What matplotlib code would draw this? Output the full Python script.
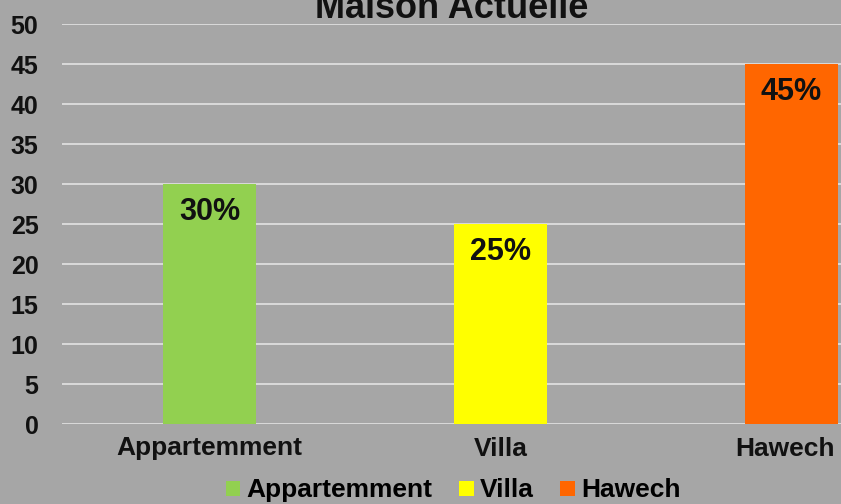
import matplotlib.pyplot as plt
from matplotlib.transforms import ScaledTranslation

categories = ["Appartemment", "Villa", "Hawech"]
values = [30, 25, 45]
colors = ["#92d050", "#ffff00", "#ff6600"]
yticks = [0, 5, 10, 15, 20, 25, 30, 35, 40, 45, 50]

plt.rcParams["font.family"] = ["Liberation Sans", "DejaVu Sans"]
plt.rcParams["font.weight"] = "bold"

bg = "#a6a6a6"
fig = plt.figure(figsize=(8.41, 5.04), dpi=100, facecolor=bg)
ax = fig.add_axes([62 / 841, 80 / 504, 1 - 62 / 841, 400 / 504])
ax.set_facecolor(bg)

x = list(range(len(categories)))
bars = ax.bar(x, values, width=0.32, color=colors, label=categories, zorder=3)

for b, v in zip(bars, values):
    ax.annotate(f"{v}%", (b.get_x() + b.get_width() / 2, v),
                xytext=(0, -26), textcoords="offset points",
                ha="center", va="baseline", fontsize=22, fontweight="bold",
                color="#111111", zorder=4)

ax.set_xlim(-0.507, 2.17)
ax.set_ylim(0, 50)
ax.set_yticks(yticks)
ax.set_xticks(x)
ax.set_xticklabels(categories, fontsize=19)
ax.grid(axis="y", color="#dedede", linewidth=1.3, zorder=0)
ax.tick_params(axis="both", length=0, labelcolor="#111111")
ax.tick_params(axis="y", labelsize=18, pad=17)
ax.tick_params(axis="x", pad=9)
for s in ax.spines.values():
    s.set_visible(False)

# keep the last category label inside the right edge
last = ax.get_xticklabels()[-1]
last.set_transform(last.get_transform() + ScaledTranslation(-5 / 72, 0, fig.dpi_scale_trans))

ax.text(0.5, 1 + 6 / 400, "Maison Actuelle", transform=ax.transAxes,
        ha="center", va="baseline", fontsize=26, fontweight="bold", color="#111111")

fig.legend(handles=list(bars), labels=categories, loc="center",
           bbox_to_anchor=(0.539, 0.027), ncol=3, frameon=False,
           fontsize=19, handlelength=0.55, handleheight=0.5,
           handletextpad=0.25, columnspacing=1.0)

fig.savefig("out.png", dpi=100, facecolor=bg)
